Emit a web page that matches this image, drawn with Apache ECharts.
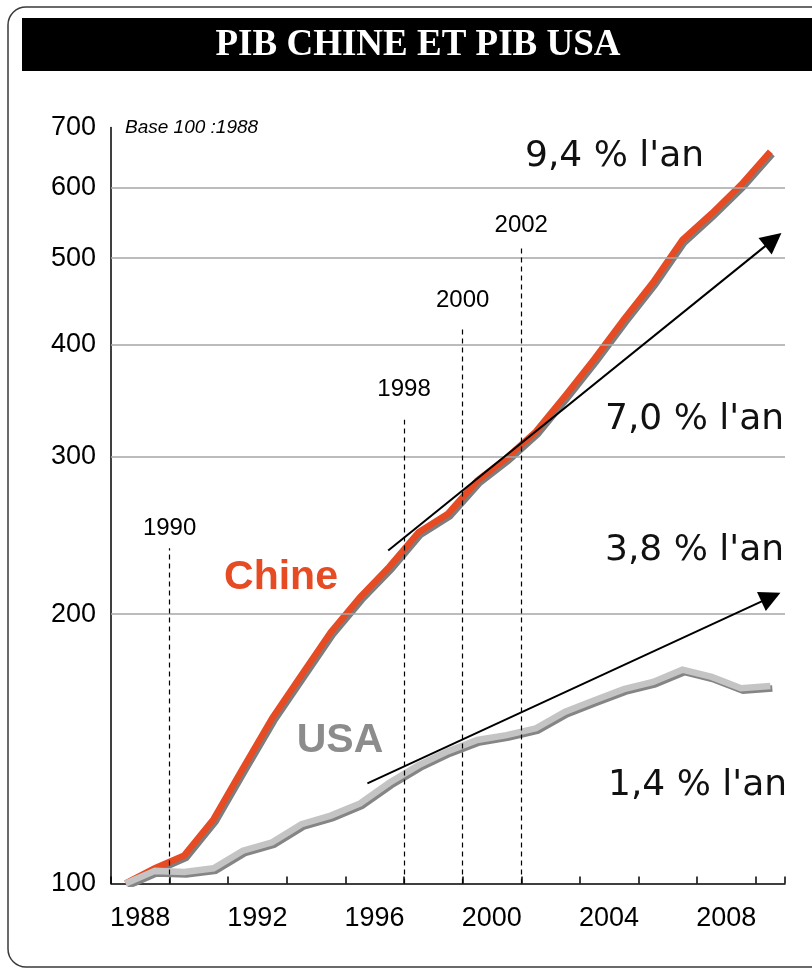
<!DOCTYPE html>
<html>
<head>
<meta charset="utf-8">
<script src="https://cdn.jsdelivr.net/npm/echarts@6/dist/echarts.min.js"></script>
<style>
  html, body { margin: 0; padding: 0; background: #fff; }
  #chart { width: 812px; height: 974px; }
</style>
</head>
<body>
<div id="chart"></div>
<script>
// Annual GDP index, base 100 in 1988
const years = ['1988','1989','1990','1991','1992','1993','1994','1995','1996','1997','1998',
  '1999','2000','2001','2002','2003','2004','2005','2006','2007','2008','2009','2010'];
const chinaGdp = [100, 104, 107.5, 118, 134.5, 153, 171, 191, 209, 226, 247,
  259, 282, 299, 320, 351, 386, 427, 470, 524, 561, 604, 658];
const usaGdp = [100, 103.3, 103.0, 104.0, 108.8, 111.2, 116.5, 119.1, 122.9, 129.6, 135.6,
  140.6, 144.7, 146.5, 149.1, 155.6, 160.3, 164.9, 168.0, 173.4, 170.2, 165.3, 166.3];

// Left scale values
const yTicks = [100, 200, 300, 400, 500, 600, 700];

// Marked years (start of year) and the index level where each marker stops
const eventYears = [1990, 1998, 2000, 2002];
const eventTops = [237, 330, 419, 516];

// Trend arrows: [year, index] at each end
const trendChina = [[1997.46, 235.6], [2010.6, 524.5]];
const trendUsa = [[1996.75, 129.4], [2010.52, 209.0]];

// Growth-rate notes
const rateNotes = ["9,4 % l'an", "7,0 % l'an", "3,8 % l'an", "1,4 % l'an"];

const SANS = '"Liberation Sans", Arial, sans-serif';
const NOTE_FONT = '"DejaVu Sans", Verdana, sans-serif';

const chart = echarts.init(document.getElementById('chart'), null, { renderer: 'canvas' });

const eventGap = [8, 18, 15, 9];
const notePos = [[525, 157], [605, 420], [605, 551], [608, 786]];

const option = {
  animation: false,
  backgroundColor: '#fff',
  grid: { left: 111, right: 27, top: 127.5, bottom: 90.5, containLabel: false },
  xAxis: [
    {
      type: 'category',
      data: years,
      boundaryGap: true,
      axisLine: { show: true, lineStyle: { color: '#000', width: 1.5 } },
      axisTick: { show: true, inside: true, length: 7, interval: 1, lineStyle: { color: '#000', width: 1.5 } },
      axisLabel: {
        interval: 3, color: '#000', fontFamily: SANS, fontSize: 27, margin: 22,
        padding: [0, 0, 0, 29]
      },
      splitLine: { show: false }
    },
    {
      type: 'value', min: 1988, max: 2011, show: false,
      splitLine: { show: false }
    }
  ],
  yAxis: {
    type: 'log', logBase: 10, min: 100, max: 700,
    axisLine: { show: true, lineStyle: { color: '#000', width: 1.5 } },
    axisTick: { show: false },
    axisLabel: { show: false },
    splitLine: { show: false }
  },
  series: [
    {
      // horizontal reference lines with the scale values
      type: 'line', xAxisIndex: 1, data: [], z: 1, silent: true,
      markLine: {
        silent: true, symbol: 'none', animation: false,
        data: yTicks.map(v => ({
          yAxis: v,
          lineStyle: (v === 100 || v === 700)
            ? { color: 'rgba(0,0,0,0)', width: 1 }
            : { color: '#a6a6a6', width: 1.5, type: 'solid' },
          label: {
            show: true, position: 'start', distance: 15, formatter: String(v),
            color: '#000', fontFamily: SANS, fontSize: 27
          }
        }))
      }
    },
    {
      // dashed year markers
      type: 'line', xAxisIndex: 1, data: [], z: 2, silent: true,
      markLine: {
        silent: true, symbol: 'none', animation: false,
        lineStyle: { color: '#000', width: 1.2, type: [5, 4] },
        data: eventYears.map((yr, i) => [
          { coord: [yr, 100] },
          {
            coord: [yr, eventTops[i]],
            label: {
              show: true, position: 'end', distance: eventGap[i], formatter: String(yr),
              color: '#000', fontFamily: SANS, fontSize: 24
            }
          }
        ])
      }
    },
    {
      name: 'Chine', type: 'line', xAxisIndex: 0, data: chinaGdp, z: 4,
      symbol: 'none', silent: true,
      lineStyle: {
        color: '#e64b24', width: 6.5, cap: 'butt', join: 'miter',
        shadowColor: '#7d7d7d', shadowOffsetX: 2, shadowOffsetY: 2.5, shadowBlur: 0
      }
    },
    {
      name: 'USA', type: 'line', xAxisIndex: 0, data: usaGdp, z: 4,
      symbol: 'none', silent: true,
      lineStyle: {
        color: '#c4c4c4', width: 6.5, cap: 'butt', join: 'miter',
        shadowColor: '#858585', shadowOffsetX: 2, shadowOffsetY: 2.5, shadowBlur: 0
      }
    },
    {
      // trend arrows
      type: 'line', xAxisIndex: 1, data: [], z: 5, silent: true,
      markLine: {
        silent: true, animation: false,
        symbol: ['none', 'triangle'], symbolSize: 21,
        lineStyle: { color: '#000', width: 2, type: 'solid' },
        label: { show: false },
        data: [
          [{ coord: trendChina[0] }, { coord: trendChina[1] }],
          [{ coord: trendUsa[0] }, { coord: trendUsa[1] }]
        ]
      }
    }
  ],
  graphic: [
    {
      type: 'rect', z: -10, silent: true,
      shape: { x: 8, y: 7, width: 830, height: 960, r: 18 },
      style: { fill: '#fff', stroke: '#3a3a3a', lineWidth: 1.5 }
    },
    {
      type: 'rect', z: -5, silent: true,
      shape: { x: 22, y: 18, width: 800, height: 53 },
      style: { fill: '#000' }
    },
    {
      type: 'text', z: 10, silent: true,
      style: {
        text: 'PIB CHINE ET PIB USA', x: 418, y: 45,
        fill: '#fff', font: 'bold 37px "Liberation Serif", "Times New Roman", serif',
        textAlign: 'center', textVerticalAlign: 'middle'
      }
    },
    {
      type: 'text', z: 10, silent: true,
      style: {
        text: 'Base 100 :1988', x: 125, y: 128,
        fill: '#000', font: 'italic 19px ' + SANS,
        textAlign: 'left', textVerticalAlign: 'middle'
      }
    },
    {
      type: 'text', z: 10, silent: true,
      style: {
        text: 'Chine', x: 281, y: 578,
        fill: '#e64b24', font: 'bold 41px ' + SANS,
        textAlign: 'center', textVerticalAlign: 'middle'
      }
    },
    {
      type: 'text', z: 10, silent: true,
      style: {
        text: 'USA', x: 340, y: 741,
        fill: '#8c8c8c', font: 'bold 41px ' + SANS,
        textAlign: 'center', textVerticalAlign: 'middle'
      }
    }
  ].concat(rateNotes.map((t, i) => ({
    type: 'text', z: 10, silent: true,
    style: {
      text: t, x: notePos[i][0], y: notePos[i][1],
      fill: '#111', font: '36px ' + NOTE_FONT,
      textAlign: 'left', textVerticalAlign: 'middle'
    }
  })))
};

chart.setOption(option);
</script>
</body>
</html>
